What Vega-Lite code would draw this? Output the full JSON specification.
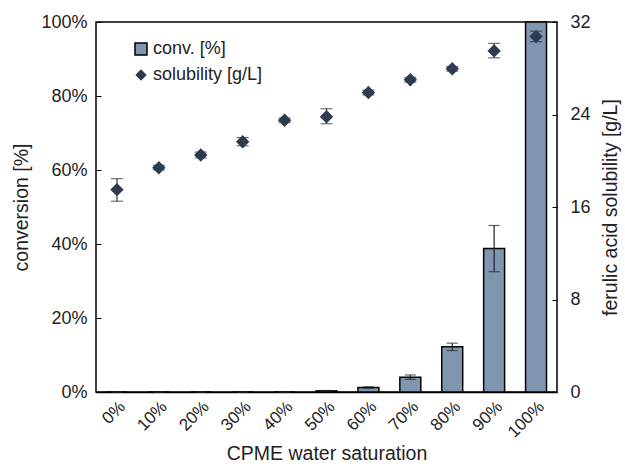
{
  "$schema": "https://vega.github.io/schema/vega-lite/v6.json",
  "autosize": "none",
  "width": 461,
  "height": 370,
  "padding": {"left": 96, "top": 22, "right": 68, "bottom": 76},
  "config": {
    "font": "Liberation Sans",
    "view": {"stroke": "#000000", "strokeWidth": 1.5},
    "axis": {"labelFont": "Liberation Sans", "titleFont": "Liberation Sans", "labelFontSize": 18, "titleFontSize": 19.5, "labelColor": "#222", "titleColor": "#222", "titleFontWeight": "normal", "grid": false, "domainColor": "#000", "tickColor": "#000"},
    "legend": {"labelFont": "Liberation Sans", "labelFontSize": 18, "labelColor": "#222"}
  },
  "data": {"values": [
    {"sat": "0%", "conv": 0, "convLo": 0, "convHi": 0, "sol": 17.5, "solLo": 16.5, "solHi": 18.45},
    {"sat": "10%", "conv": 0, "convLo": 0, "convHi": 0, "sol": 19.4, "solLo": 19.2, "solHi": 19.6},
    {"sat": "20%", "conv": 0, "convLo": 0, "convHi": 0, "sol": 20.5, "solLo": 20.25, "solHi": 20.75},
    {"sat": "30%", "conv": 0, "convLo": 0, "convHi": 0, "sol": 21.65, "solLo": 21.3, "solHi": 22.0},
    {"sat": "40%", "conv": 0, "convLo": 0, "convHi": 0, "sol": 23.5, "solLo": 23.3, "solHi": 23.7},
    {"sat": "50%", "conv": 0.3, "convLo": 0.2, "convHi": 0.4, "sol": 23.8, "solLo": 23.2, "solHi": 24.5},
    {"sat": "60%", "conv": 1.2, "convLo": 1.0, "convHi": 1.4, "sol": 25.9, "solLo": 25.7, "solHi": 26.1},
    {"sat": "70%", "conv": 4.0, "convLo": 3.4, "convHi": 4.6, "sol": 27.0, "solLo": 26.8, "solHi": 27.2},
    {"sat": "80%", "conv": 12.2, "convLo": 11.2, "convHi": 13.2, "sol": 27.95, "solLo": 27.75, "solHi": 28.15},
    {"sat": "90%", "conv": 38.8, "convLo": 32.5, "convHi": 45.0, "sol": 29.5, "solLo": 28.9, "solHi": 30.15},
    {"sat": "100%", "conv": 100, "convLo": 100, "convHi": 100, "sol": 30.75, "solLo": 30.3, "solHi": 31.2}
  ]},
  "encoding": {
    "x": {"field": "sat", "type": "ordinal", "sort": null, "scale": {"paddingInner": 0.5, "paddingOuter": 0.25},
      "axis": {"title": "CPME water saturation", "labelAngle": -45, "labelFontSize": 17, "ticks": false, "domainWidth": 1.5, "labelPadding": 6, "titlePadding": 4}}
  },
  "layer": [
    {
      "layer": [
        {
          "mark": {"type": "bar", "stroke": "#000000", "strokeWidth": 1.5},
          "encoding": {
            "y": {"field": "conv", "type": "quantitative", "scale": {"domain": [0, 100], "nice": false},
              "axis": {"title": "conversion [%]", "values": [0, 20, 40, 60, 80, 100], "labelExpr": "datum.value + '%'", "tickSize": -5, "tickWidth": 1, "ticks": true, "domain": false, "labelPadding": 14, "titlePadding": 9}},
            "fill": {"datum": "conv. [%]", "type": "nominal", "scale": {"domain": ["conv. [%]"], "range": ["#8096B0"]},
              "legend": {"title": null, "orient": "none", "legendX": 36, "legendY": 18, "symbolType": "square", "symbolSize": 144, "symbolStrokeColor": "#000", "symbolStrokeWidth": 1.5, "labelOffset": 3}}
          }
        },
        {
          "mark": {"type": "rule", "color": "#222", "strokeWidth": 1.2},
          "encoding": {"y": {"field": "convLo", "type": "quantitative"}, "y2": {"field": "convHi"}}
        },
        {
          "mark": {"type": "tick", "color": "#222", "thickness": 1.2, "size": 11, "orient": "horizontal"},
          "encoding": {"y": {"field": "convLo", "type": "quantitative"}}
        },
        {
          "mark": {"type": "tick", "color": "#222", "thickness": 1.2, "size": 11, "orient": "horizontal"},
          "encoding": {"y": {"field": "convHi", "type": "quantitative"}}
        }
      ]
    },
    {
      "layer": [
        {
          "mark": {"type": "rule", "color": "#333", "strokeWidth": 1.2},
          "encoding": {
            "y": {"field": "solLo", "type": "quantitative", "scale": {"domain": [0, 32], "nice": false},
              "axis": {"orient": "right", "title": "ferulic acid solubility [g/L]", "titleAngle": -90, "titleBaseline": "top", "values": [0, 8, 16, 24, 32], "tickSize": -5, "tickWidth": 1, "domain": false, "labelPadding": 18, "titlePadding": 11}},
            "y2": {"field": "solHi"}
          }
        },
        {
          "mark": {"type": "tick", "color": "#333", "thickness": 1.2, "size": 12, "orient": "horizontal"},
          "encoding": {"y": {"field": "solLo", "type": "quantitative", "scale": {"domain": [0, 32], "nice": false}}}
        },
        {
          "mark": {"type": "tick", "color": "#333", "thickness": 1.2, "size": 12, "orient": "horizontal"},
          "encoding": {"y": {"field": "solHi", "type": "quantitative", "scale": {"domain": [0, 32], "nice": false}}}
        },
        {
          "mark": {"type": "point", "filled": true, "color": "#2E3B4E", "opacity": 1, "size": 180},
          "encoding": {
            "y": {"field": "sol", "type": "quantitative", "scale": {"domain": [0, 32], "nice": false}},
            "shape": {"datum": "solubility [g/L]", "type": "nominal", "scale": {"domain": ["solubility [g/L]"], "range": ["diamond"]},
              "legend": {"title": null, "orient": "none", "legendX": 36, "legendY": 44, "symbolSize": 130, "symbolFillColor": "#2E3B4E", "symbolStrokeColor": "#2E3B4E", "labelOffset": 3}}
          }
        }
      ]
    }
  ],
  "resolve": {"scale": {"y": "independent"}}
}
